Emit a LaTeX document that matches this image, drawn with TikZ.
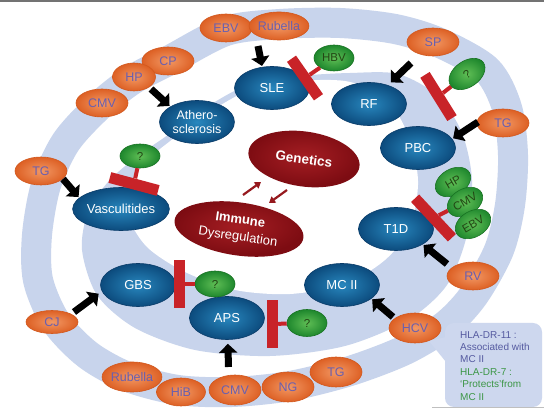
\documentclass[tikz,border=0pt]{standalone}
\usepackage{fontspec}
\setmainfont{Liberation Sans}
\usetikzlibrary{shapes.geometric,arrows.meta}
\definecolor{bandc}{RGB}{200,212,236}
\definecolor{disin}{RGB}{40,135,190}
\definecolor{disout}{RGB}{12,75,125}
\definecolor{disedge}{RGB}{10,60,105}
\definecolor{orin}{RGB}{242,152,100}
\definecolor{orout}{RGB}{221,96,36}
\definecolor{oredge}{RGB}{210,88,30}
\definecolor{ortext}{RGB}{105,95,175}
\definecolor{grin}{RGB}{95,190,85}
\definecolor{grout}{RGB}{30,135,45}
\definecolor{gredge}{RGB}{25,115,35}
\definecolor{grtext}{RGB}{35,70,20}
\definecolor{redin}{RGB}{165,30,35}
\definecolor{redout}{RGB}{125,12,18}
\definecolor{barc}{RGB}{200,35,40}
\definecolor{darr}{RGB}{150,25,30}
\definecolor{hlabox}{RGB}{205,215,238}
\definecolor{hlablue}{RGB}{85,90,160}
\definecolor{hlagreen}{RGB}{60,150,70}
\tikzset{
  dis/.style={ellipse, shade, inner color=disin, outer color=disout, draw=disedge, line width=0.6pt,
    text=white, inner sep=0pt, minimum width=75pt, minimum height=43pt, align=center,
    font=\fontsize{13}{14}\selectfont},
  pat/.style={ellipse, shade, inner color=orin, outer color=orout, draw=oredge, line width=0.6pt,
    text=ortext, inner sep=0pt, minimum width=52pt, minimum height=28pt,
    font=\fontsize{12.5}{13}\selectfont},
  grn/.style={ellipse, shade, inner color=grin, outer color=grout, draw=gredge, line width=0.6pt,
    text=grtext, inner sep=0pt, minimum width=40pt, minimum height=26pt,
    font=\fontsize{11.5}{12}\selectfont},
  rednode/.style={ellipse, shade, inner color=redin, outer color=redout, text=white,
    inner sep=0pt, align=center},
  tbar/.style={rectangle, fill=barc, minimum width=48pt, minimum height=11pt, inner sep=0pt},
  stem/.style={line width=4pt, barc},
  blk/.style={line width=7pt, black, -{Triangle[length=9pt,width=18pt]}, shorten >=1pt},
  redarr/.style={line width=2.2pt, darr, -{Triangle[length=6pt,width=7.5pt]}}
}
\begin{document}
\begin{tikzpicture}[x=1pt,y=-1pt]
\useasboundingbox (0,0) rectangle (544,411);
\fill[white] (0,0) rectangle (544,411);
\fill[black!55] (0,0) rectangle (544,2.5);
\draw[black!25, line width=1pt] (432,408) -- (544,408);

% outer ring
\draw[bandc, line width=30pt] plot[smooth cycle] coordinates {
 (170,60) (226,31) (280,24) (340,23) (395,29) (440,43) (487,70) (507,108) (513,155)
 (510,205) (499,250) (474,295) (446,325) (405,350) (350,371) (290,386) (232,392)
 (178,390) (128,377) (88,355) (56,322) (38,280) (37,235) (46,185) (66,142) (98,107) (132,80)};
% inner crescent band
\fill[bandc] plot[smooth cycle] coordinates {
 (300,76) (350,73) (398,74) (438,96) (462,133) (472,180) (467,235) (447,285) (408,320)
 (345,346) (270,356) (195,350) (135,328) (97,295) (82,250) (88,212) (108,182) (135,158)
 (165,137) (205,108) (250,84)};
\fill[white] plot[smooth cycle] coordinates {
 (300,81) (345,81) (378,93) (400,118) (413,150) (418,185) (410,228) (385,260) (345,284)
 (290,294) (235,290) (185,272) (148,248) (130,220) (130,190) (143,164) (169,142)
 (208,113) (252,89)};

% diseases
\node[dis] (sle) at (272,88) {SLE};
\node[dis] (rf) at (369,104) {RF};
\node[dis] (pbc) at (418,148) {PBC};
\node[dis] (t1d) at (396,229) {T1D};
\node[dis] (mc) at (342,285) {MC II};
\node[dis] (aps) at (227,318) {APS};
\node[dis] (gbs) at (138,285) {GBS};
\node[dis, minimum width=78pt] (vasc) at (121,209) {Vasculitides};
\node[dis, font=\fontsize{12.5}{13.5}\selectfont] (ath) at (197,122) {Athero-\\sclerosis};

% central
\node[rednode, minimum width=112pt, minimum height=55pt, rotate=-8,
  font=\bfseries\fontsize{13.5}{15}\selectfont] (gen) at (304,159) {Genetics};
\node[rednode, minimum width=130pt, minimum height=53pt, rotate=-8,
  font=\fontsize{13}{17}\selectfont] (imm) at (239,229) {\textbf{Immune}\\Dysregulation};
\coordinate (ra1) at (243,195); \coordinate (ra2) at (261,182);
\coordinate (rb1) at (287,190); \coordinate (rb2) at (269,203);
\draw[redarr] (ra1) -- (ra2);
\draw[redarr] (rb1) -- (rb2);

% pathogens
\node[pat] (ebv1) at (226,28) {EBV};
\node[pat] (rub1) at (279,26) {Rubella};
\node[pat] (cp) at (168,61) {CP};
\node[pat] (cmv1) at (102,103) {CMV};
\node[pat, minimum width=43pt] (hp) at (134,77) {HP};
\node[pat] (sp) at (433,42) {SP};
\node[pat] (tg1) at (503,123) {TG};
\node[pat] (tg2) at (41,171) {TG};
\node[pat, minimum height=23pt] (cj) at (52,322) {CJ};
\node[pat] (rv) at (473,276) {RV};
\node[pat, minimum height=30pt] (hcv) at (415,328) {HCV};
\node[pat, minimum height=30pt] (rub2) at (132,377) {Rubella};
\node[pat, minimum width=49pt] (hib) at (181,392) {HiB};
\node[pat, minimum height=30pt] (cmv2) at (235,390) {CMV};
\node[pat, minimum height=30pt] (ng) at (288,387) {NG};
\node[pat, minimum height=30pt] (tg3) at (336,372) {TG};

% inhibition bars
\node[tbar, minimum width=47pt, rotate=-55] (b1) at (305,78) {};
\node[tbar, minimum width=51pt, rotate=-58] (b2) at (438.5,96.5) {};
\node[tbar, minimum width=50pt, rotate=-15] (b3) at (134,184) {};
\node[tbar, minimum width=54pt, rotate=-47] (b4) at (433.5,218) {};
\node[tbar, minimum width=48pt, rotate=90] (b5) at (179.5,284) {};
\node[tbar, minimum width=48pt, rotate=90] (b6) at (272.5,324) {};

% protective agents
\node[grn] (hbv) at (334,58) {HBV};
\node[grn, rotate=35] (q1) at (467,74) {?};
\node[grn, minimum height=24pt] (q2) at (140,156) {?};
\node[grn, rotate=30, minimum width=38pt] (ghp) at (453,182) {HP};
\node[grn, rotate=30, minimum width=38pt] (gcmv) at (465,202) {CMV};
\node[grn, rotate=30, minimum width=38pt] (gebv) at (473,224) {EBV};
\node[grn] (q3) at (215,284) {?};
\node[grn, minimum height=27pt] (q4) at (307,323) {?};

\draw[stem] (hbv) -- (b1);
\draw[stem] (q1) -- (b2);
\draw[stem] (q2) -- (b3);
\draw[stem] (gcmv) -- (b4);
\draw[stem] (q3) -- (b5);
\draw[stem] (q4) -- (b6);

% triggering arrows
\coordinate (t1) at (258,46);
\coordinate (t2) at (151,89);
\coordinate (t3) at (411,63);
\coordinate (t4) at (478,122);
\coordinate (t5) at (63,179);
\coordinate (t6) at (447,264);
\coordinate (t7) at (393,317);
\coordinate (t8) at (228.5,367);
\coordinate (t9) at (74,312);
\draw[blk] (t1) -- (sle.115);
\draw[blk] (t2) -- (ath.150);
\draw[blk, shorten >=4pt] (t3) -- (rf.45);
\draw[blk] (t4) -- (pbc.15);
\draw[blk] (t5) -- (vasc.165);
\draw[blk] (t6) -- (t1d.330);
\draw[blk] (t7) -- (mc.335);
\draw[blk, shorten >=4pt] (t8) -- (aps.272);
\draw[blk, shorten >=4pt] (t9) -- (gbs.190);

% HLA callout
\node[fill=hlabox, rounded corners=9pt, minimum width=97pt, minimum height=84pt, inner sep=0pt] (hla) at (493.5,365) {};
\coordinate (ptip) at (429,341);
\coordinate (pa) at (446,337);
\coordinate (pb) at (446,362);
\fill[hlabox] (pa) -- (ptip) -- (pb) -- cycle;
\node[anchor=north west, align=left, inner sep=0pt, text=hlablue,
  font=\fontsize{10}{12.4}\selectfont] (hlatxt) at (460,331)
  {HLA-DR-11 :\\Associated with\\MC II\\\textcolor{hlagreen}{HLA-DR-7 :}\\\textcolor{hlagreen}{‘Protects’from}\\\textcolor{hlagreen}{MC II}};
\end{tikzpicture}
\end{document}
